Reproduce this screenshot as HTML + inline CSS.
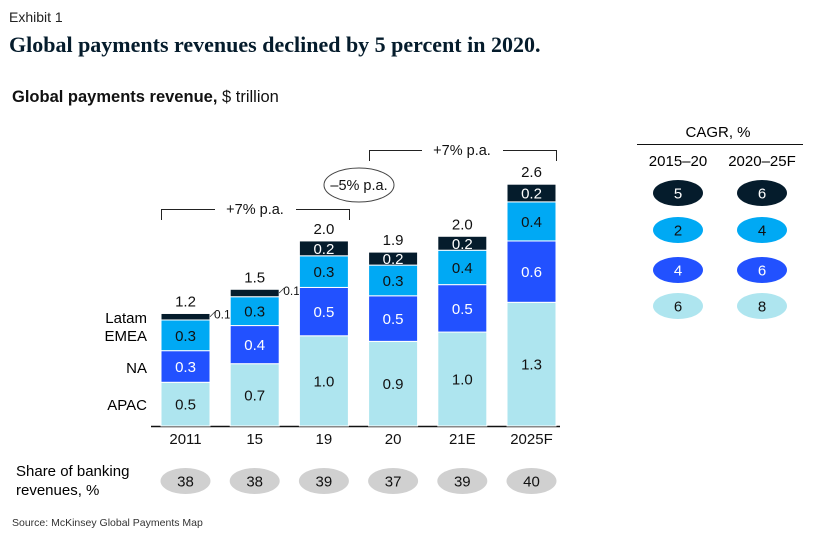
<!DOCTYPE html>
<html><head><meta charset="utf-8"><style>
body{margin:0;background:#fff;}
svg text{font-family:"Liberation Sans",sans-serif;}
</style></head><body>
<svg width="819" height="543" viewBox="0 0 819 543" xmlns="http://www.w3.org/2000/svg" id="chart">
<text x="9" y="22" font-size="14" fill="#222">Exhibit 1</text>
<text x="9" y="52" font-size="22" font-weight="bold" fill="#051c2c" style="font-family:'Liberation Serif',serif">Global payments revenues declined by 5 percent in 2020.</text>
<text x="12" y="102" font-size="16.5" fill="#111"><tspan font-weight="bold">Global payments revenue,</tspan> $ trillion</text>
<line x1="151" y1="426.5" x2="560" y2="426.5" stroke="#111" stroke-width="1.5"/>
<g id="bars"></g>
<g>
<path d="M161.5 220 V209.5 H215 M296 209.5 H349.5 V220" fill="none" stroke="#222" stroke-width="1"/>
<text x="255" y="214" font-size="14.5" text-anchor="middle" fill="#111">+7% p.a.</text></g>
<g>
<path d="M369.5 161 V150.5 H422 M503 150.5 H556.5 V161" fill="none" stroke="#222" stroke-width="1"/>
<text x="462" y="155" font-size="14.5" text-anchor="middle" fill="#111">+7% p.a.</text></g>
<g>
<ellipse cx="359" cy="185" rx="35" ry="17" fill="none" stroke="#444" stroke-width="1"/>
<text x="359" y="190" font-size="14.5" text-anchor="middle" fill="#111">–5% p.a.</text></g>
<text x="147" y="323" font-size="15" text-anchor="end">Latam</text>
<text x="147" y="341" font-size="15" text-anchor="end">EMEA</text>
<text x="147" y="373" font-size="15" text-anchor="end">NA</text>
<text x="147" y="410" font-size="15" text-anchor="end">APAC</text>
<text x="16" y="476" font-size="15"><tspan x="16">Share of banking</tspan><tspan x="16" y="495">revenues, %</tspan></text>
<text x="12" y="526" font-size="10.5" fill="#333">Source: McKinsey Global Payments Map</text>
<text x="718" y="137" font-size="15" text-anchor="middle">CAGR, %</text>
<line x1="637" y1="144.5" x2="803" y2="144.5" stroke="#111" stroke-width="1"/>
<text x="678" y="166" font-size="15" text-anchor="middle">2015–20</text>
<text x="762" y="166" font-size="15" text-anchor="middle">2020–25F</text>
<g id="cagr"></g>
</svg>
<script>
const categories=["2011","15","19","20","21E","2025F"];
const apac=[0.47,0.67,0.97,0.91,1.01,1.33];
const na=[0.34,0.41,0.52,0.49,0.51,0.66];
const emea=[0.33,0.31,0.34,0.33,0.37,0.42];
const latam=[0.07,0.08,0.16,0.14,0.15,0.19];
const apacLabels=["0.5","0.7","1.0","0.9","1.0","1.3"];
const naLabels=["0.3","0.4","0.5","0.5","0.5","0.6"];
const emeaLabels=["0.3","0.3","0.3","0.3","0.4","0.4"];
const latamLabels=["0.1","0.1","0.2","0.2","0.2","0.2"];
const totals=["1.2","1.5","2.0","1.9","2.0","2.6"];
const shares=["38","38","39","37","39","40"];
const cagr1520=["5","2","4","6"];
const cagr2025=["6","4","6","8"];
const NS="http://www.w3.org/2000/svg";
const base=426,unit=93,x0=161,step=69.2,bw=49;
const y=v=>base-v*unit;
const xOf=i=>x0+i*step;
function mk(tag,attrs,parent){const e=document.createElementNS(NS,tag);for(const k in attrs)e.setAttribute(k,attrs[k]);parent.appendChild(e);return e;}
const g=document.getElementById('bars');
const series=[[apac,apacLabels,"#aee5ef","#111","apac"],[na,naLabels,"#2251ff","#fff","na"],[emea,emeaLabels,"#00a9f4","#111","emea"],[latam,latamLabels,"#051c2c","#fff","latam"]];
categories.forEach((c,i)=>{
  let cum=0;const x=xOf(i);
  series.forEach(([vals,labs,col,tc,nm],s)=>{
    const v=vals[i];const top=y(cum+v),bot=y(cum);
    const r=mk('rect',{x:x,y:top,width:bw,height:Math.max(0,bot-top),fill:col,stroke:'#fff','stroke-width':1},g);
    
    
    if(s<3||v>0.12){
      const t=mk('text',{x:x+bw/2,y:(top+bot)/2+5.5,'font-size':15,'text-anchor':'middle',fill:tc},g);
      t.textContent=labs[i];
      
      
    } else {
      const ly=(top+bot)/2;
      mk('line',{x1:x+bw,y1:ly,x2:x+bw+5,y2:ly-5,stroke:'#333','stroke-width':0.8},g);
      const t=mk('text',{x:x+bw+4,y:ly+2,'font-size':12,fill:'#111'},g);
      t.textContent=labs[i];
      
      
    }
    cum+=v;
  });
  const tt=mk('text',{x:x+bw/2,y:y(cum)-7,'font-size':15,'text-anchor':'middle',fill:'#111'},g);
  tt.textContent=totals[i];
  
  
  const xl=mk('text',{x:x+bw/2,y:444,'font-size':15,'text-anchor':'middle',fill:'#111'},g);
  xl.textContent=c;
  
  
  const p=mk('ellipse',{cx:x+bw/2,cy:481,rx:25,ry:13,fill:'#d0d0d0'},g);
  
  
  const pt=mk('text',{x:x+bw/2,y:486.5,'font-size':15,'text-anchor':'middle',fill:'#111'},g);
  pt.textContent=shares[i];
  
  
});
const cg=document.getElementById('cagr');
const cc=[["#051c2c","#fff"],["#00a9f4","#111"],["#2251ff","#fff"],["#aee5ef","#111"]];
const cy=[193,230,270,306];const cn=["latam","emea","na","apac"];
[[cagr1520,678,"2015-20"],[cagr2025,762,"2020-25"]].forEach(([arr,cx,nm])=>{
  arr.forEach((v,j)=>{
    const e=mk('ellipse',{cx:cx,cy:cy[j],rx:25,ry:13,fill:cc[j][0]},cg);
    
    
    const t=mk('text',{x:cx,y:cy[j]+5.5,'font-size':15,'text-anchor':'middle',fill:cc[j][1]},cg);
    t.textContent=v;
    
    
  });
});
</script>
</body></html>
